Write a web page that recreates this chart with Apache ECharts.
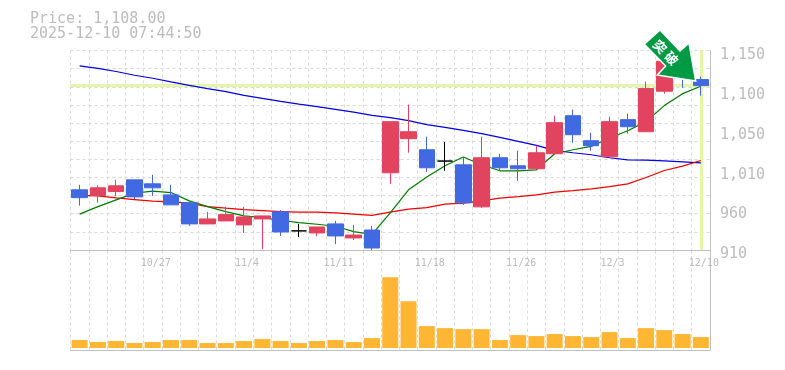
<!DOCTYPE html>
<html>
<head>
<meta charset="utf-8">
<style>html,body{margin:0;padding:0;background:#fff}#c{width:785px;height:370px}</style>
<script src="https://cdn.jsdelivr.net/npm/echarts@6/dist/echarts.min.js"></script>
</head>
<body>
<div id="c"></div>
<script>
const titleLines = ['Price: 1,108.00', '2025-12-10 07:44:50'];
const dates = ['10/21','10/22','10/23','10/24','10/27','10/28','10/29','10/30','10/31','11/4','11/5','11/6','11/7','11/10','11/11','11/12','11/13','11/14','11/17','11/18','11/19','11/20','11/21','11/25','11/26','11/27','11/28','12/1','12/2','12/3','12/4','12/5','12/8','12/9','12/10'];
const shownDates = ['10/27','11/4','11/11','11/18','11/26','12/3','12/10'];
const opens  = [982.4,975.5,980.3,994.4,989.6,976.3,966.7,941.4,945,940.2,947.4,955.8,933,930.5,941.4,924.5,934,1002.9,1043.9,1030.6,1017,1012.5,961.9,1021,1011.3,1007.7,1025.8,1071.6,1041.5,1022.2,1066.8,1052.3,1101,1128,1115];
const closes = [973,984.8,987.2,973.9,984.8,964.3,941.4,947.4,952.6,949.8,951,931.7,933,937.7,926.9,928,912.4,1064.4,1052.3,1008.9,1017,966.7,1021,1008.9,1007.7,1027,1063.2,1048.7,1035.4,1064.4,1058.3,1104.2,1137,1117,1107.8];
const lows   = [963.4,967,975,971.5,975,964.3,939,941.4,945,930.5,911,926.9,925.7,926.9,917,922,910,989.6,1027,1004,1005.3,964.3,960.7,1005.3,993.2,1007.7,1025.8,1039,1029.4,1022.2,1050,1052.3,1098,1105,1095.7];
const highs  = [988.4,988,994.4,994.4,1000.4,988.4,969,955.8,961.9,961.9,951,958,941.4,937.7,945,940.2,939,1064.4,1084.9,1046.3,1040,1021,1046.3,1025.8,1029.4,1035.4,1071.6,1078.8,1051,1070.4,1074,1112.6,1140,1135,1118.6];
const ma5  = [953.1,962.2,970.3,978.4,980.8,979.1,969.1,962.2,956.2,951,949,945.8,942.9,941,938.6,932.1,928.9,954.6,982.4,997.7,1011.3,1021.8,1012.5,1005.3,1005.3,1006.5,1025.8,1030.6,1034.6,1044.7,1053.5,1064.4,1083.7,1098.1,1107];
const ma25 = [975.7,975.1,972.7,970.7,968.7,967.9,966.3,962.2,960.3,958.6,957.4,956.2,955.5,955.5,954.6,953.1,951.6,955.5,959.1,961,965.1,966.3,969.1,972.4,974.3,976.3,979.6,981.5,983.6,986.3,989.6,997.2,1005.6,1010.9,1017.7];
const ma75 = [1131.5,1128.6,1124.7,1120.2,1116.6,1112.2,1108.1,1104.2,1100.5,1096.1,1092.5,1088.8,1085.5,1082.5,1079.2,1075.8,1072,1069.2,1065.6,1060.8,1057.5,1053.9,1049.9,1045.5,1040.6,1035.8,1029.8,1027,1024.6,1021,1018.5,1018.2,1017.3,1016.1,1014.9];
const volumes = [8,6,7,5,6,8,8,5,5,7,9,7,5,7,8,6,10,71,47,22,20,19,19,8,13,12,14,12,11,16,10,20,18,14,11];
const priceTicks = [910,958,1006,1054,1102,1150];
const priceTickLabels = ['910','960','1,010','1,050','1,100','1,150'];
const gridTicks = [910,931.82,953.64,975.45,997.27,1019.09,1040.91,1062.73,1084.55,1106.36,1128.18,1150];
const lastPrice = 1108;
const lastDate = '12/10';
const calloutChars = ['突','破'];

const GREY='#bcbcbc', AXIS='#c0c0c0', GRID='#d8d8d8', MONO='"DejaVu Sans Mono", monospace';
const chart = echarts.init(document.getElementById('c'), null, {renderer:'canvas'});
const split = {show:true, interval:0, lineStyle:{color:GRID, type:[3,3], width:1}};
const lineSeries = (name,data,color,extra) => Object.assign({
  name, type:'line', data, xAxisIndex:0, yAxisIndex:0, symbol:'none', z:2, silent:true,
  lineStyle:{color, width:1.2}, connectNulls:false, animation:false
}, extra||{});
chart.setOption({
  animation:false,
  backgroundColor:'#fff',
  title:{show:false},
  grid:[
    {left:70.5, width:639.5, top:50.5, height:199.5, containLabel:false},
    {left:70.5, width:639.5, top:250.5, height:99.5, containLabel:false}
  ],
  xAxis:[
    {type:'category', gridIndex:0, data:dates, boundaryGap:true,
     axisLine:{show:true, onZero:false, lineStyle:{color:AXIS,width:1}},
     axisTick:{show:false}, splitLine:split,
     axisLabel:{show:true, margin:8, color:GREY, fontFamily:MONO, fontSize:10, padding:[0,0,0,6],
       interval:(i,v)=>shownDates.includes(v), hideOverlap:false}},
    {type:'category', gridIndex:1, data:dates, boundaryGap:true,
     axisLine:{show:true, onZero:false, lineStyle:{color:AXIS,width:1}},
     axisTick:{show:false}, splitLine:split, axisLabel:{show:false}}
  ],
  yAxis:[
    {type:'value', gridIndex:0, position:'right', min:910, max:1150, scale:true,
     axisLine:{show:true, onZero:false, lineStyle:{color:AXIS,width:1}},
     axisTick:{show:false, customValues:gridTicks},
     splitLine:{show:true, lineStyle:{color:GRID, type:[3,3], width:1}},
     axisLabel:{show:true, customValues:priceTicks, margin:10, color:GREY, fontFamily:MONO, fontSize:15,
       verticalAlign:'top', lineHeight:9, formatter:v=>priceTickLabels[priceTicks.indexOf(Math.round(v))]}},
    {type:'value', gridIndex:1, position:'right', min:-2, max:98,
     axisLine:{show:true, onZero:false, lineStyle:{color:AXIS,width:1}},
     axisTick:{show:false}, splitLine:{show:false}, axisLabel:{show:false}}
  ],
  series:[
    lineSeries('MA75', ma75, '#0000e6', {markLine:{
      silent:true, symbol:'none', z:1, animation:false, label:{show:false}, emphasis:{disabled:true},
      lineStyle:{color:'#e5f5a9', width:3, type:'solid'},
      data:[{yAxis:lastPrice},{xAxis:lastDate}]
    }}),
    lineSeries('MA25', ma25, '#f00000'),
    lineSeries('MA5', ma5, '#007a00'),
    {name:'Price', type:'candlestick', xAxisIndex:0, yAxisIndex:0, z:3, silent:true, barWidth:16,
     data:dates.map((d,i)=>[opens[i],closes[i],lows[i],highs[i]]),
     itemStyle:{color:'#e2445f', color0:'#4169e1', borderColor:'#e2445f', borderColor0:'#4169e1', borderColorDoji:'#000000', borderWidth:1}},
    {name:'Volume', type:'bar', xAxisIndex:1, yAxisIndex:1, data:volumes, barWidth:16, silent:true,
     itemStyle:{color:'#ffb733'}}
  ],
  graphic:[
    {type:'text', left:30, top:12, silent:true, style:{text:titleLines.join('\n'), fill:GREY, font:'15px '+MONO, lineHeight:15}},
    {type:'polygon', silent:true, z:50, shape:{points:[[644.3,44.3],[660,30],[680,51],[689,43],[695.7,81],[657.3,75],[665.7,66]]},
     style:{fill:'#009944', stroke:'#ffffff', lineWidth:1.5}},
    {type:'text', silent:true, z:51, x:660, y:46.7, rotation:-Math.PI/4,
     style:{text:calloutChars[0], fill:'#fff', font:'bold 13px "Noto Sans CJK JP"', align:'center', verticalAlign:'middle'}},
    {type:'text', silent:true, z:51, x:671.7, y:58.3, rotation:-Math.PI/4,
     style:{text:calloutChars[1], fill:'#fff', font:'bold 13px "Noto Sans CJK JP"', align:'center', verticalAlign:'middle'}}
  ]
});
</script>
</body>
</html>
